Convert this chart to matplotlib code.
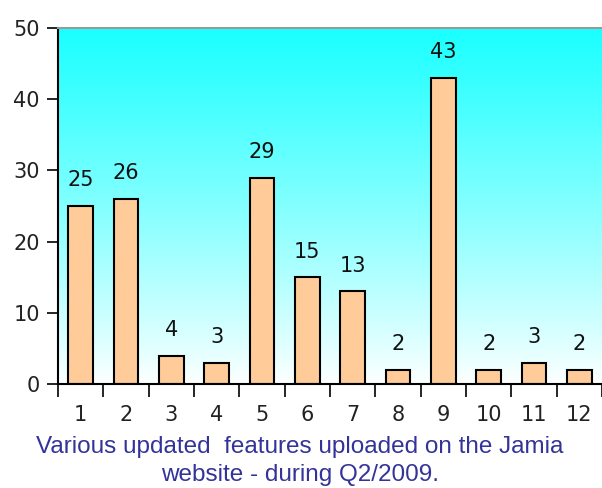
import matplotlib.pyplot as plt
import numpy as np

# Данные графика
categories = ['1', '2', '3', '4', '5', '6', '7', '8', '9', '10', '11', '12']
values = [25, 26, 4, 3, 29, 15, 13, 2, 43, 2, 3, 2]
y_ticks = [0, 10, 20, 30, 40, 50]
caption = 'Various updated  features uploaded on the Jamia\nwebsite - during Q2/2009.'

plt.rcParams['font.family'] = ['DejaVu Sans']

fig = plt.figure(figsize=(6.02, 4.88), dpi=100)
ax = fig.add_axes([58 / 602, 104 / 488, 544 / 602, 356 / 488])

x = np.arange(len(categories))

# Градиентный фон: от голубого сверху к белому снизу
grad = np.linspace(0, 1, 256).reshape(-1, 1)
top = np.array([0.10, 1.0, 1.0])
bottom = np.array([1.0, 1.0, 1.0])
img = bottom + (top - bottom) * grad[::-1] ** 0.9
img = img.reshape(256, 1, 3)
ax.imshow(img, extent=[-0.5, len(categories) - 0.5, 0, 50],
          aspect='auto', zorder=0, origin='upper')

ax.bar(x, values, width=0.55, color='#FFCC99', edgecolor='black',
       linewidth=1.5, zorder=2)

for xi, v in zip(x, values):
    ax.text(xi, v + 3.6, str(v), ha='center', va='center', fontsize=15,
            color='#111111')

ax.set_xlim(-0.5, len(categories) - 0.5)
ax.set_ylim(0, 50)
ax.set_yticks(y_ticks)
ax.tick_params(axis='y', direction='out', length=8, width=1.2,
               labelsize=15, pad=5, labelcolor='#222222')

# Деления по оси X между категориями, подписи по центру
ax.set_xticks(np.arange(-0.5, len(categories), 1))
ax.set_xticklabels([])
ax.set_xticks(x, minor=True)
ax.set_xticklabels(categories, minor=True, fontsize=15, color='#222222')
ax.tick_params(axis='x', which='major', direction='out', length=9, width=1.2)
ax.tick_params(axis='x', which='minor', length=0, pad=15)

ax.spines['left'].set_linewidth(1.5)
ax.spines['bottom'].set_linewidth(1.5)
ax.spines['top'].set_color('#999999')
ax.spines['top'].set_linewidth(1.5)
ax.spines['right'].set_visible(False)

fig.text(300 / 602, 1 - 461 / 488, caption, ha='center', va='center',
         fontsize=17.5, color='#333399', linespacing=1.3,
         family='Liberation Sans')

fig.savefig('out.png', dpi=100)
